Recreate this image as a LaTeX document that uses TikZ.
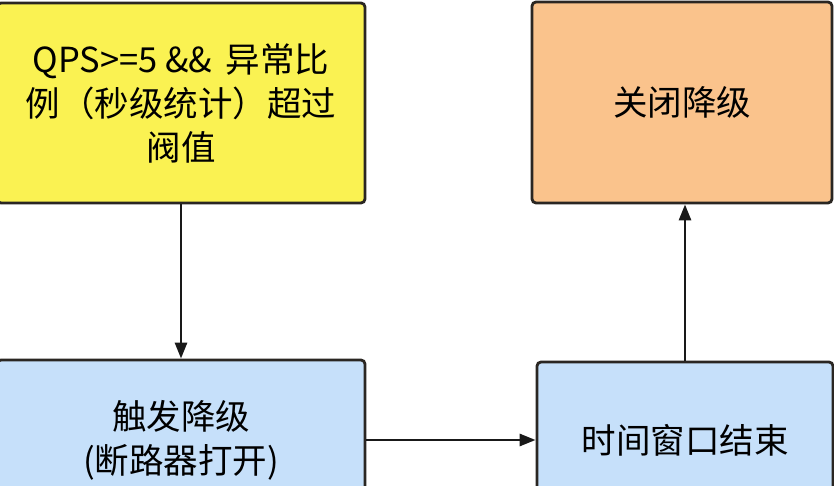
\documentclass[tikz,border=0pt]{standalone}
\usepackage{fontspec}
\setmainfont{Noto Sans CJK SC}
\usetikzlibrary{arrows.meta}
\definecolor{boxyellow}{HTML}{FAF252}
\definecolor{boxorange}{HTML}{FAC38C}
\definecolor{boxblue}{HTML}{C6E0FA}
\definecolor{boxline}{HTML}{2A2622}
\begin{document}
\begin{tikzpicture}[x=1pt,y=1pt,
  stagebox/.style={draw=boxline,line width=2.8pt,rounded corners=4pt,
    align=center,inner sep=0pt,font=\fontsize{34.5}{44}\selectfont},
  flow/.style={line width=2.8pt,draw=black!90,-{Triangle[length=16pt,width=12pt]}}]
\useasboundingbox[clip] (0,0) rectangle (834,485);
\fill[white] (0,0) rectangle (834,485);
\node[stagebox,fill=boxyellow,minimum width=368,minimum height=200] (cond) at (181,382)
  {QPS>=5 \&\&\ \,异常比\\例（秒级统计）超过\\阀值};
\node[stagebox,fill=boxorange,minimum width=300,minimum height=201] (close) at (682,382.5) {关闭降级};
\node[stagebox,fill=boxblue,minimum width=368,minimum height=160] (trigger) at (181,45)
  {触发降级\\(断路器打开)};
\node[stagebox,fill=boxblue,minimum width=296,minimum height=156] (window) at (685,45) {时间窗口结束};
\draw[flow] (cond.south) -- (trigger.north);
\draw[flow] (trigger.east) -- (window.west);
\draw[flow] (window.north) -- (window.north |- close.south);
\end{tikzpicture}
\end{document}
